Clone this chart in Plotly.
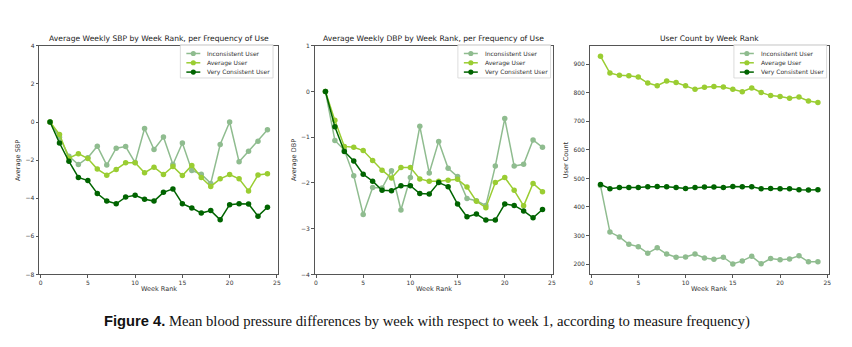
import plotly.graph_objects as go

weeks = list(range(1, 25))
series_names = ["Inconsistent User", "Average User", "Very Consistent User"]
series_colors = ["#8FBC8F", "#9ACD32", "#006400"]

sbp_inconsistent = [0, -0.80, -1.80, -2.23, -1.87, -1.27, -2.26, -1.37, -1.29, -2.13, -0.34, -1.44,
                    -0.79, -2.23, -1.10, -2.54, -2.74, -3.22, -1.18, 0.00, -2.09, -1.53, -1.01, -0.41]
sbp_average = [0, -0.65, -1.90, -1.66, -1.92, -2.47, -2.79, -2.49, -2.14, -2.14, -2.66, -2.37,
               -2.76, -2.33, -2.81, -2.28, -2.91, -3.38, -2.98, -2.76, -2.98, -3.62, -2.78, -2.71]
sbp_consistent = [0, -1.10, -2.06, -2.91, -3.07, -3.75, -4.15, -4.29, -3.94, -3.84, -4.05, -4.15,
                  -3.69, -3.51, -4.29, -4.51, -4.78, -4.65, -5.13, -4.34, -4.29, -4.30, -4.94, -4.47]

dbp_inconsistent = [0, -1.07, -1.28, -1.84, -2.69, -2.10, -2.11, -1.73, -2.59, -1.88, -0.76, -1.78,
                    -1.09, -1.68, -1.86, -2.34, -2.39, -2.49, -1.63, -0.59, -1.63, -1.59, -1.06, -1.22]
dbp_average = [0, -0.63, -1.20, -1.22, -1.29, -1.51, -1.72, -1.89, -1.66, -1.66, -1.91, -1.96,
               -1.96, -1.94, -1.92, -2.09, -2.40, -2.54, -1.99, -1.88, -2.16, -2.50, -2.01, -2.19]
dbp_consistent = [0, -0.77, -1.31, -1.52, -1.81, -1.96, -2.16, -2.17, -2.06, -2.06, -2.23, -2.24,
                  -1.99, -2.08, -2.46, -2.74, -2.68, -2.81, -2.81, -2.46, -2.49, -2.61, -2.76, -2.58]

count_inconsistent = [475, 312, 295, 269, 261, 238, 257, 235, 224, 225, 235, 221,
                      217, 224, 200, 211, 227, 201, 219, 215, 218, 229, 208, 208]
count_average = [928, 869, 861, 860, 855, 834, 825, 841, 836, 825, 812, 819,
                 822, 820, 812, 804, 817, 801, 790, 787, 781, 785, 771, 766]
count_consistent = [479, 464, 468, 468, 468, 471, 472, 471, 468, 465, 468, 470,
                    470, 468, 472, 471, 471, 464, 465, 464, 464, 460, 459, 460]

panel_titles = ["Average Weekly SBP by Week Rank, per Frequency of Use",
                "Average Weekly DBP by Week Rank, per Frequency of Use",
                "User Count by Week Rank"]
y_labels = ["Average SBP", "Average DBP", "User Count"]
x_label = "Week Rank"
x_ticks = [0, 5, 10, 15, 20, 25]
caption_bold = "Figure 4."
caption_text = "Mean blood pressure differences by week with respect to week 1, according to measure frequency)"

panels = [
    [sbp_inconsistent, sbp_average, sbp_consistent],
    [dbp_inconsistent, dbp_average, dbp_consistent],
    [count_inconsistent, count_average, count_consistent],
]

W, H = 852, 347
FONT = "DejaVu Sans"
x_domains = [[39.3 / W, 279.3 / W], [315.7 / W, 555.3 / W], [591.7 / W, 831.7 / W]]
y_domain = [(H - 276.0) / H, (H - 42.7) / H]
y_ranges = [[-8, 4], [-4, 1], [163.6, 964.4]]
y_ticks = [list(range(-8, 5, 2)), list(range(-4, 2, 1)), list(range(200, 1000, 100))]
legend_right_px = [274.0, 552.5, 829.5]
legend_w_px, legend_top_px, legend_bot_px = 93.0, 41.5, 75.5
legend_rows_px = [50.5, 60.0, 69.5]
ylabel_x = [18 / W, 295 / W, 568 / W]


def px(xp):
    return xp / W


def py(yp):
    return (H - yp) / H


fig = go.Figure()
for p, data in enumerate(panels):
    xa = "x" if p == 0 else f"x{p+1}"
    ya = "y" if p == 0 else f"y{p+1}"
    for s, vals in enumerate(data):
        fig.add_trace(go.Scatter(
            x=weeks, y=vals, mode="lines+markers", name=series_names[s],
            line=dict(color=series_colors[s], width=1.5),
            marker=dict(color=series_colors[s], size=5.5),
            xaxis=xa, yaxis=ya, showlegend=False,
        ))

axis_common = dict(
    showgrid=False, zeroline=False, showline=True, linecolor="#555", linewidth=1,
    mirror=True, ticks="outside", ticklen=2.5, tickwidth=0.8, tickcolor="#555",
    tickfont=dict(family=FONT, size=6, color="#333"),
)
layout = dict(
    width=W, height=H, margin=dict(l=0, r=0, t=0, b=0),
    paper_bgcolor="white", plot_bgcolor="white",
    font=dict(family=FONT, color="#333"),
)
annotations = []
shapes = []
for p in range(3):
    xk = "xaxis" if p == 0 else f"xaxis{p+1}"
    yk = "yaxis" if p == 0 else f"yaxis{p+1}"
    layout[xk] = dict(axis_common, domain=x_domains[p], range=[-0.15, 25.15],
                      tickvals=x_ticks, anchor="y" if p == 0 else f"y{p+1}")
    layout[yk] = dict(axis_common, domain=y_domain, range=y_ranges[p], tickvals=y_ticks[p],
                      anchor="x" if p == 0 else f"x{p+1}")
    cx = (x_domains[p][0] + x_domains[p][1]) / 2
    annotations.append(dict(text=panel_titles[p], x=cx, y=py(35), xref="paper", yref="paper",
                            showarrow=False, xanchor="center", yanchor="middle",
                            font=dict(family=FONT, size=7.6, color="#222")))
    annotations.append(dict(text=x_label, x=cx, y=py(291), xref="paper", yref="paper",
                            showarrow=False, xanchor="center", yanchor="middle",
                            font=dict(family=FONT, size=6.5, color="#333")))
    annotations.append(dict(text=y_labels[p], x=ylabel_x[p], y=(y_domain[0] + y_domain[1]) / 2,
                            xref="paper", yref="paper", showarrow=False, textangle=-90,
                            xanchor="center", yanchor="middle",
                            font=dict(family=FONT, size=6.5, color="#333")))
    # legend box (drawn manually to keep matplotlib-like compact entries)
    right = legend_right_px[p]
    left = right - legend_w_px
    shapes.append(dict(type="rect", xref="paper", yref="paper", layer="above",
                       x0=px(left), x1=px(right), y0=py(legend_bot_px), y1=py(legend_top_px),
                       fillcolor="rgba(255,255,255,0.85)", line=dict(color="#d3d3d3", width=0.8)))
    for s, name in enumerate(series_names):
        yy = legend_rows_px[s]
        shapes.append(dict(type="line", xref="paper", yref="paper", layer="above",
                           x0=px(left + 6), x1=px(left + 20), y0=py(yy), y1=py(yy),
                           line=dict(color=series_colors[s], width=1.5)))
        r = 2.6
        shapes.append(dict(type="circle", xref="paper", yref="paper", layer="above",
                           x0=px(left + 13 - r), x1=px(left + 13 + r), y0=py(yy + r), y1=py(yy - r),
                           fillcolor=series_colors[s], line=dict(width=0)))
        annotations.append(dict(text=name, x=px(left + 25), y=py(yy), xref="paper", yref="paper",
                                showarrow=False, xanchor="left", yanchor="middle",
                                font=dict(family=FONT, size=6, color="#333")))

annotations.append(dict(
    text=f"<span style='font-family:Liberation Sans;font-weight:bold'>{caption_bold}</span> {caption_text}",
    x=429 / W, y=py(324.5), xref="paper", yref="paper", showarrow=False,
    xanchor="center", yanchor="middle",
    font=dict(family="Liberation Serif", size=14.7, color="#111"),
))
layout["annotations"] = annotations
layout["shapes"] = shapes
fig.update_layout(**layout)
fig.write_html("out.html")
